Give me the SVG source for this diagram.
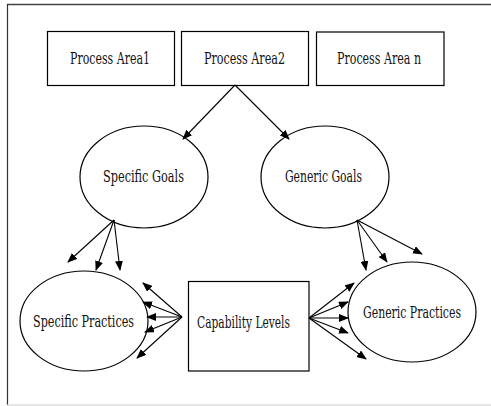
<svg xmlns="http://www.w3.org/2000/svg" width="491" height="406" viewBox="0 0 491 406">
<defs>
<marker id="ah" markerWidth="10" markerHeight="8" refX="9" refY="4" orient="auto" markerUnits="userSpaceOnUse">
<path d="M0,0 L10,4 L0,8 Z" fill="#000"/>
</marker>
<style>
.box{fill:#fff;stroke:#000;stroke-width:1.2}
.ell{fill:#fff;stroke:#000;stroke-width:1.2}
.lbl{font-family:"DejaVu Serif",serif;font-size:16px;fill:#111;text-anchor:middle}
.con line{stroke:#000;stroke-width:1.1;marker-end:url(#ah)}
</style>
</defs>
<rect width="491" height="406" fill="#fff"/>
<line x1="7" y1="4.5" x2="491" y2="4.5" stroke="#444" stroke-width="1.5"/>
<line x1="7.5" y1="4" x2="7.5" y2="405" stroke="#333" stroke-width="1.2"/>
<line x1="7" y1="405" x2="491" y2="405" stroke="#ccc" stroke-width="1"/>

<g id="pa1"><rect class="box" x="47.5" y="31.5" width="127" height="54"/><text class="lbl" x="110" y="64" textLength="80" lengthAdjust="spacingAndGlyphs">Process Area1</text></g>
<g id="pa2"><rect class="box" x="181.5" y="31.5" width="127" height="54"/><text class="lbl" x="244.5" y="64" textLength="81" lengthAdjust="spacingAndGlyphs">Process Area2</text></g>
<g id="pan"><rect class="box" x="316.5" y="32" width="127.5" height="53.5"/><text class="lbl" x="379" y="64" textLength="84" lengthAdjust="spacingAndGlyphs">Process Area n</text></g>

<g id="sg"><ellipse class="ell" cx="144" cy="177" rx="64" ry="51"/><text class="lbl" x="143.5" y="182" textLength="81" lengthAdjust="spacingAndGlyphs">Specific Goals</text></g>
<g id="gg"><ellipse class="ell" cx="325" cy="177" rx="64" ry="51"/><text class="lbl" x="323.5" y="182" textLength="77" lengthAdjust="spacingAndGlyphs">Generic Goals</text></g>

<g id="sp"><ellipse class="ell" cx="84" cy="321" rx="64" ry="50"/><text class="lbl" x="83.5" y="327" textLength="101" lengthAdjust="spacingAndGlyphs">Specific Practices</text></g>
<g id="cl"><rect class="box" x="188.5" y="281.5" width="120.5" height="89.5"/><text class="lbl" x="243.5" y="328" textLength="93" lengthAdjust="spacingAndGlyphs">Capability Levels</text></g>
<g id="gp"><ellipse class="ell" cx="412" cy="312" rx="64" ry="50"/><text class="lbl" x="412" y="318" textLength="98" lengthAdjust="spacingAndGlyphs">Generic Practices</text></g>

<g id="connectors" class="con">
<line x1="235" y1="85" x2="183" y2="139"/>
<line x1="235" y1="85" x2="289" y2="139"/>
<line x1="114" y1="220" x2="68" y2="262"/>
<line x1="114" y1="220" x2="96" y2="270"/>
<line x1="114" y1="220" x2="120" y2="270"/>
<line x1="357" y1="220" x2="366" y2="270"/>
<line x1="357" y1="220" x2="387" y2="262"/>
<line x1="357" y1="220" x2="422" y2="254"/>
<line x1="182" y1="317" x2="143" y2="283"/>
<line x1="182" y1="317" x2="143" y2="302"/>
<line x1="182" y1="317" x2="147" y2="317"/>
<line x1="182" y1="317" x2="145" y2="332"/>
<line x1="182" y1="317" x2="137" y2="358"/>
<line x1="309" y1="318" x2="354" y2="283"/>
<line x1="309" y1="318" x2="348" y2="302"/>
<line x1="309" y1="318" x2="348" y2="318"/>
<line x1="309" y1="318" x2="348" y2="333"/>
<line x1="309" y1="318" x2="366" y2="359"/>
</g>
</svg>
